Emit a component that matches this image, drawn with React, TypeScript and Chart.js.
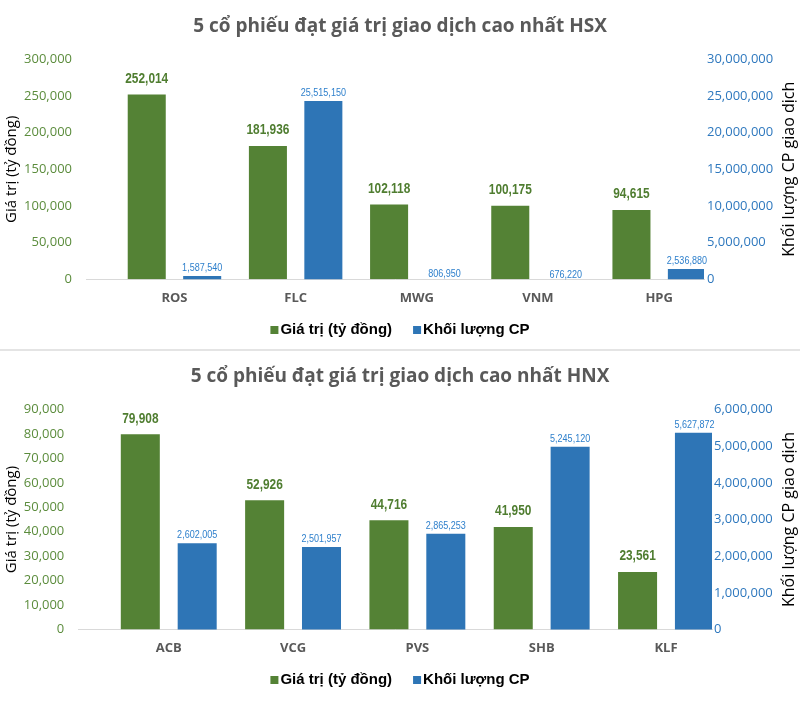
import React, { useEffect, useRef } from 'react';
import { Chart, registerables } from 'chart.js';

Chart.register(...registerables);

// ---------- data ----------
const seriesNames = ['Giá trị (tỷ đồng)', 'Khối lượng CP'];
const axisTitles = ['Giá trị (tỷ đồng)', 'Khối lượng CP giao dịch'];

const hsxTitle = '5 cổ phiếu đạt giá trị giao dịch cao nhất HSX';
const hsxCategories = ['ROS', 'FLC', 'MWG', 'VNM', 'HPG'];
const hsxValue = [252014, 181936, 102118, 100175, 94615];
const hsxVolume = [1587540, 25515150, 806950, 676220, 2536880];

const hnxTitle = '5 cổ phiếu đạt giá trị giao dịch cao nhất HNX';
const hnxCategories = ['ACB', 'VCG', 'PVS', 'SHB', 'KLF'];
const hnxValue = [79908, 52926, 44716, 41950, 23561];
const hnxVolume = [2602005, 2501957, 2865253, 5245120, 5627872];

// ---------- styles ----------
const GREEN = '#548235';
const BLUE = '#2E75B6';
const GREEN_TICK = '#5B8C3C';
const BLUE_TICK = '#2E78BE';
const GREEN_LABEL = '#4F7D30';
const BLUE_LABEL = '#2F80CC';
const GRAY = '#595959';

type Layout = {
  height: number;
  titleTop: number;
  titleBottom: number;
  padBottom: number;
  xTickPad: number;
  left: number;
  right: number;
  leftPad: number;
  rightPad: number;
  legendY: number;
  leftTitleX: number;
  rightTitleX: number;
};

type Props = {
  title: string;
  categories: string[];
  values: number[];
  volumes: number[];
  valueMax: number;
  valueStep: number;
  volMax: number;
  volStep: number;
  volBarMin: number;
  volBarMax: number;
  layout: Layout;
};

const fmt = (v: number) => Math.round(Number(v)).toLocaleString('en-US');

function narrowText(c: CanvasRenderingContext2D, text: string, x: number, y: number, font: string, color: string) {
  c.save();
  c.font = font;
  c.fillStyle = color;
  c.textAlign = 'center';
  c.textBaseline = 'middle';
  c.translate(x, y);
  c.scale(0.82, 1);
  c.fillText(text, 0, 0);
  c.restore();
}

function ExchangeChart(p: Props) {
  const ref = useRef<HTMLCanvasElement>(null);
  useEffect(() => {
    const L = p.layout;
    const overlay = {
      id: 'overlay',
      afterDatasetsDraw(chart: any) {
        const c = chart.ctx as CanvasRenderingContext2D;
        chart.data.datasets.forEach((ds: any, di: number) => {
          const meta = chart.getDatasetMeta(di);
          meta.data.forEach((el: any, i: number) => {
            const v = ds.data[i].y;
            const top = Math.min(el.y, el.base);
            if (di === 0) narrowText(c, fmt(v), el.x, top - 15.5, 'bold 14.5px "Liberation Sans"', GREEN_LABEL);
            else narrowText(c, fmt(v), el.x, top - 8, '11px "Liberation Sans"', BLUE_LABEL);
          });
        });
      },
      afterDraw(chart: any) {
        const c = chart.ctx as CanvasRenderingContext2D;
        const a = chart.chartArea;
        const midY = (a.top + a.bottom) / 2;
        // axis titles
        [
          [L.leftTitleX, axisTitles[0], 15],
          [L.rightTitleX, axisTitles[1], 16],
        ].forEach(([x, t, size]) => {
          c.save();
          c.font = `${size}px "Open Sans"`;
          c.fillStyle = '#000';
          c.textAlign = 'center';
          c.textBaseline = 'middle';
          c.translate(x as number, midY);
          c.rotate(-Math.PI / 2);
          c.fillText(t as string, 0, 0);
          c.restore();
        });
        // legend
        c.save();
        c.font = 'bold 15px "Liberation Sans"';
        const box = 8, gap = 2, itemGap = 21;
        const colors = [GREEN, BLUE];
        const widths = seriesNames.map((n) => box + gap + c.measureText(n).width);
        const total = widths.reduce((s, w) => s + w, 0) + itemGap * (seriesNames.length - 1);
        let x = chart.width / 2 - total / 2;
        seriesNames.forEach((n, i) => {
          c.fillStyle = colors[i];
          c.fillRect(x, L.legendY - box / 2, box, box);
          c.fillStyle = '#000';
          c.textAlign = 'left';
          c.textBaseline = 'middle';
          c.fillText(n, x + box + gap, L.legendY);
          x += widths[i] + itemGap;
        });
        c.restore();
      },
    };

    const chart = new Chart(ref.current as HTMLCanvasElement, {
      type: 'bar',
      data: {
        datasets: [
          {
            label: seriesNames[0],
            data: p.values.map((v, i) => ({ x: i, y: v })),
            backgroundColor: GREEN,
            yAxisID: 'y',
            xAxisID: 'x',
            categoryPercentage: 0.915,
            barPercentage: 0.686,
          },
          {
            label: seriesNames[1],
            data: p.volumes.map((v, i) => ({ x: i, y: v })),
            backgroundColor: BLUE,
            yAxisID: 'yVol',
            xAxisID: 'x',
            categoryPercentage: 0.915,
            barPercentage: 0.686,
          },
        ],
      } as any,
      options: {
        responsive: false,
        animation: false,
        layout: { padding: { left: 0, right: 0, top: 0, bottom: L.padBottom } },
        plugins: {
          legend: { display: false },
          tooltip: { enabled: false },
          title: {
            display: true,
            text: p.title,
            color: GRAY,
            font: { family: 'Open Sans', size: 19, weight: 'bold' },
            padding: { top: L.titleTop, bottom: L.titleBottom },
          },
        },
        scales: {
          x: {
            type: 'linear',
            min: -0.73,
            max: 4.37,
            offset: false,
            grid: { display: false, drawTicks: false, offset: false },
            border: { display: true, color: '#D9D9D9', width: 1 },
            afterBuildTicks: (s: any) => {
              s.ticks = p.categories.map((_, i) => ({ value: i }));
            },
            ticks: {
              padding: L.xTickPad,
              color: GRAY,
              autoSkip: false,
              maxRotation: 0,
              font: { family: 'Open Sans', size: 13, weight: 'bold' },
              callback: (v: any) => p.categories[v] ?? '',
            },
          },
          y: {
            position: 'left',
            min: 0,
            max: p.valueMax,
            beginAtZero: false,
            grid: { display: false, drawTicks: false },
            border: { display: false },
            ticks: {
              stepSize: p.valueStep,
              padding: L.leftPad,
              color: GREEN_TICK,
              font: { family: 'Open Sans', size: 13 },
              callback: (v: any) => fmt(v),
            },
            afterFit: (s: any) => {
              s.width = L.left;
            },
          },
          yTicks: {
            position: 'right',
            min: 0,
            max: p.volMax,
            beginAtZero: false,
            grid: { display: false, drawTicks: false },
            border: { display: false },
            ticks: {
              stepSize: p.volStep,
              padding: L.rightPad,
              color: BLUE_TICK,
              font: { family: 'Open Sans', size: 13 },
              callback: (v: any) => fmt(v),
            },
            afterFit: (s: any) => {
              s.width = 800 - L.right;
            },
          },
          yVol: {
            display: false,
            position: 'right',
            min: p.volBarMin,
            max: p.volBarMax,
            beginAtZero: false,
          },
        },
      } as any,
      plugins: [overlay],
    });
    return () => chart.destroy();
  }, []);
  return (
    <canvas
      ref={ref}
      width={800}
      height={p.layout.height}
      style={{ display: 'block', width: 800, height: p.layout.height }}
    />
  );
}

export default function App() {
  return (
    <div style={{ position: 'absolute', left: 0, top: 0, width: 800, height: 720, background: '#fff' }}>
      <ExchangeChart
        title={hsxTitle}
        categories={hsxCategories}
        values={hsxValue}
        volumes={hsxVolume}
        valueMax={300000}
        valueStep={50000}
        volMax={30000000}
        volStep={5000000}
        volBarMin={1130000}
        volBarMax={31210000}
        layout={{
          height: 349,
          titleTop: 14.9,
          titleBottom: 21.6,
          padBottom: 32.3,
          xTickPad: 10.9,
          left: 86,
          right: 704,
          leftPad: 14,
          rightPad: 3,
          legendY: 330,
          leftTitleX: 11.7,
          rightTitleX: 789,
        }}
      />
      <div style={{ height: 2, background: '#E4E4E4' }} />
      <ExchangeChart
        title={hnxTitle}
        categories={hnxCategories}
        values={hnxValue}
        volumes={hnxVolume}
        valueMax={90000}
        valueStep={10000}
        volMax={6000000}
        volStep={1000000}
        volBarMin={244000}
        volBarMax={6263000}
        layout={{
          height: 369,
          titleTop: 14.6,
          titleBottom: 21.1,
          padBottom: 52.5,
          xTickPad: 11.2,
          left: 78,
          right: 712,
          leftPad: 13.7,
          rightPad: 2,
          legendY: 329,
          leftTitleX: 11.7,
          rightTitleX: 789,
        }}
      />
    </div>
  );
}
